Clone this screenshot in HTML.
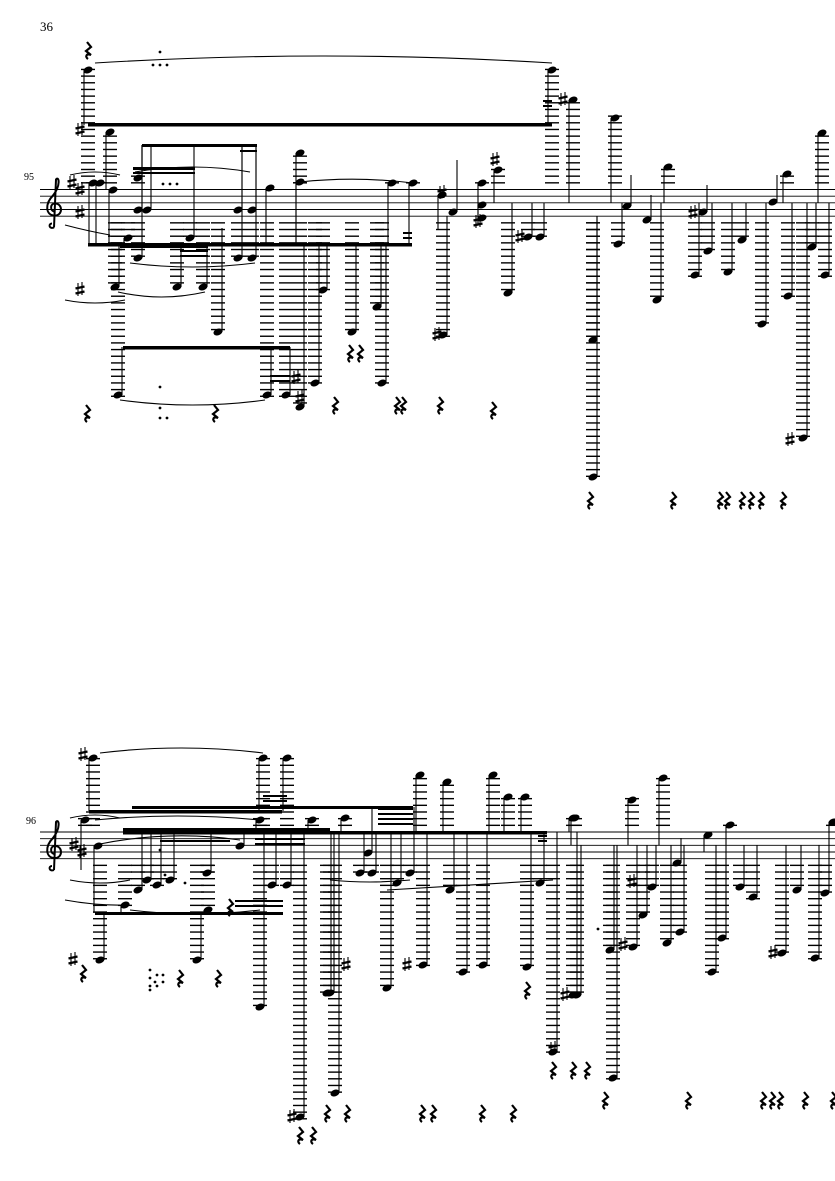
<!DOCTYPE html>
<html><head><meta charset="utf-8">
<style>
html,body{margin:0;padding:0;background:#fff;}
svg{display:block;}
text{font-family:"Liberation Serif",serif;}
</style></head>
<body>
<svg id="s" width="835" height="1181" viewBox="0 0 835 1181" xmlns="http://www.w3.org/2000/svg">
<text x="40" y="31" font-size="13">36</text>
<text x="24" y="180" font-size="10">95</text>
<text x="26" y="824" font-size="10">96</text>
<g id="g"></g>
</svg>
<script>
var NS="http://www.w3.org/2000/svg",G=document.getElementById("g");
function el(t,a){var e=document.createElementNS(NS,t);for(var k in a)e.setAttribute(k,a[k]);G.appendChild(e);return e;}
function line(x1,y1,x2,y2,w){el("line",{x1:x1,y1:y1,x2:x2,y2:y2,stroke:"#000","stroke-width":w||1});}
var SP=6.67;
function staff(top,x0){for(var i=0;i<5;i++)line(x0,top+i*SP,835,top+i*SP,0.9);}
function clef(x,top){
 el("path",{d:"M"+(x+9)+" "+(top+38)+" C"+(x+4)+" "+(top+40)+" "+(x+3)+" "+(top+34)+" "+(x+7)+" "+(top+34)+" M"+(x+9)+" "+(top+38)+" L"+(x+11)+" "+(top-10)+" C"+(x+14)+" "+(top-14)+" "+(x+16)+" "+(top-4)+" "+(x+8)+" "+(top+6)+" C"+(x)+" "+(top+14)+" "+(x)+" "+(top+26)+" "+(x+10)+" "+(top+26)+" C"+(x+18)+" "+(top+26)+" "+(x+18)+" "+(top+14)+" "+(x+10)+" "+(top+14)+" C"+(x+5)+" "+(top+14)+" "+(x+5)+" "+(top+21)+" "+(x+9)+" "+(top+22),fill:"none",stroke:"#000","stroke-width":2});
}
function note(x,y,st,top){
 var bot=top+4*SP;
 if(y<top-3){for(var ly=top-SP;ly>=y-2;ly-=SP)line(x-7,ly,x+7,ly,1.4);}
 if(y>bot+3){for(var ly=bot+SP;ly<=y+2;ly+=SP)line(x-7,ly,x+7,ly,1.4);}
 el("ellipse",{cx:x,cy:y,rx:4.7,ry:3.3,transform:"rotate(-22 "+x+" "+y+")",fill:"#000"});
 if(st!=null){var sx=st<y?x+4:x-4;line(sx,y,sx,st,1.1);}
}
function rest(x,y){el("path",{d:"M"+(x-1)+" "+(y-8)+" L"+(x+3)+" "+(y-3)+" L"+(x-2)+" "+(y+1)+" L"+(x+3)+" "+(y+5)+" C"+(x-2)+" "+(y+3)+" "+(x-3)+" "+(y+7)+" "+(x)+" "+(y+9),fill:"none",stroke:"#000","stroke-width":2.2});}
function sharp(x,y){
 line(x-2,y-7,x-2,y+6,1.1);line(x+2,y-8,x+2,y+5,1.1);
 line(x-4.5,y-1.5,x+4.5,y-3.5,2.2);line(x-4.5,y+3.5,x+4.5,y+1.5,2.2);
}
function beam(x1,x2,y,h){el("rect",{x:x1,y:y,width:x2-x1,height:h||3,fill:"#000"});}
function slur(x1,y1,x2,y2,h){el("path",{d:"M"+x1+" "+y1+" Q"+((x1+x2)/2)+" "+(Math.min(y1,y2)-h)+" "+x2+" "+y2,fill:"none",stroke:"#000","stroke-width":1.1});}
function dot(x,y){el("circle",{cx:x,cy:y,r:1.4,fill:"#000"});}

/* SYSTEM 1 */
var T1=189.5;staff(T1,40);clef(45,T1);
sharp(72,183);sharp(80,190);sharp(80,213);
var n1=[[88,70,125],[110,132,190],[93,183,245],[100,183,245],[113,190,245],
[138,178,145],[138,210,145],[147,210,145],[128,238,245],[138,258,145],
[115,287,245],[177,287,245],[190,238,145],[203,287,245],[218,332,228],
[238,210,145],[238,258,145],[252,210,145],[252,258,145],
[118,395,347],[267,395,347],[286,395,347],[270,188,245],[300,153,245],[300,182,245],
[300,407,245],[315,383,245],[323,290,245],[352,332,245],[377,307,245],[382,383,245],
[392,183,245],[413,183,245],[442,195,230],[453,212,160],[443,335,216],
[482,183,225],[482,205,225],[482,218,225],[498,170,203],[508,293,203],
[528,237,203],[540,237,203],[552,70,125],[573,100,203],[593,340,216],[593,477,216],
[615,118,203],[618,244,203],[627,206,175],[647,220,195],[657,300,203],[668,167,203],
[695,275,203],[703,212,185],[708,251,203],[728,272,203],[742,240,203],
[762,324,203],[773,202,175],[787,174,203],[788,296,203],[803,438,203],[812,247,203],
[822,133,203],[825,275,203]];
n1.forEach(function(n){note(n[0],n[1],n[2],T1);});
beam(88,552,123,3.5);beam(88,412,243,3.5);beam(142,257,144,3);beam(133,195,167,3);beam(133,195,172,2);
beam(120,208,245,3);beam(180,208,250,2);beam(180,208,255,2);beam(123,290,346,3.5);
beam(543,552,100,2);beam(543,552,105,2);beam(240,257,150,2);beam(403,412,232,2);beam(403,412,237,2);
beam(270,290,375,2);beam(270,290,380,2);
[[88,50],[87,413],[215,413],[335,405],[397,405],[403,405],[440,405],[350,353],[360,353],[493,410],
[590,500],[673,500],[720,500],[727,500],[742,500],[751,500],[761,500],[783,500]].forEach(function(r){rest(r[0],r[1]);});
[[160,52],[153,65],[160,65],[167,65],[160,387],[160,408],[160,418],[167,418],[163,184],[170,184],[177,184]].forEach(function(d){dot(d[0],d[1]);});
[[80,130],[80,290],[300,398],[296,378],[437,335],[495,160],[520,237],[563,100],[790,440],[693,213],[442,193],[478,222]].forEach(function(s){sharp(s[0],s[1]);});
slur(95,63,552,63,14);slur(135,172,250,172,10);slur(130,263,255,263,-8);slur(118,292,205,292,-10);slur(120,400,265,400,-10);
slur(70,175,120,175,6);slur(65,225,110,235,-6);slur(65,300,125,300,-6);slur(300,182,413,183,6);

/* SYSTEM 2 */
var T2=832;staff(T2,40);clef(45,T2);
sharp(74,845);sharp(82,852);
var n2=[[93,758,811],[263,758,811],[287,758,811],[85,820,870],[260,820,832],[312,820,832],
[98,846,913],[240,846,832],[100,960,913],[197,960,913],[125,905,913],[138,890,832],
[147,880,832],[157,885,832],[170,880,832],[207,873,832],[208,910,913],
[260,1007,832],[300,1117,832],[327,993,832],[272,885,832],[287,885,832],
[345,818,832],[330,993,832],[335,1093,832],[360,873,832],[372,873,832],[368,853,807],
[387,988,832],[397,883,832],[410,873,807],[420,775,832],[423,965,832],[447,782,832],
[450,890,832],[463,972,832],[483,965,832],[493,775,832],[508,797,832],[525,797,832],
[527,967,832],[540,883,832],[553,1052,832],[573,995,832],[573,818,832],
[575,818,845],[577,995,845],[610,950,845],[613,1078,845],[632,800,845],[633,947,845],
[643,915,845],[652,887,845],[663,778,845],[667,943,845],[680,932,845],[677,863,838],
[708,835,852],[730,825,845],[712,972,845],[722,938,845],[740,887,845],[753,897,845],
[782,953,845],[797,890,845],[815,958,845],[825,893,845],[833,822,845]];
n2.forEach(function(n){note(n[0],n[1],n[2],T2);});
beam(89,282,810,3.5);beam(132,413,806,3);beam(123,547,831,3.5);beam(95,283,912,3);
beam(123,330,828,3);beam(160,230,840,2);beam(255,305,838,2);beam(255,305,843,2);
beam(235,283,900,2);beam(235,283,905,2);beam(378,413,808,2);beam(378,413,813,2);beam(378,413,818,2);beam(378,413,823,2);
beam(263,287,795,2);beam(263,287,800,2);beam(538,547,835,2);beam(538,547,840,2);
[[83,973],[180,978],[218,978],[230,907],[300,1135],[313,1135],[327,1113],[347,1113],[422,1113],[433,1113],
[482,1113],[513,1113],[527,990],[553,1070],[573,1070],[587,1070],[605,1100],[688,1100],
[763,1100],[772,1100],[780,1100],[805,1100],[833,1100]].forEach(function(r){rest(r[0],r[1]);});
[[150,970],[150,978],[155,982],[163,982],[157,975],[163,975],[150,986],[157,986],[150,990],[160,850],[165,875],[185,883],[598,929]].forEach(function(d){dot(d[0],d[1]);});
[[83,755],[73,960],[292,1117],[407,965],[346,965],[553,1049],[565,995],[632,882],[623,945],[773,953]].forEach(function(s){sharp(s[0],s[1]);});
slur(100,753,263,753,10);slur(70,818,120,818,6);slur(95,820,260,820,8);slur(100,844,240,840,10);
slur(70,880,130,880,-6);slur(65,900,130,905,-6);slur(130,910,260,910,-8);slur(330,880,410,880,-4);slur(387,890,553,880,-5);
</script>
</body></html>
